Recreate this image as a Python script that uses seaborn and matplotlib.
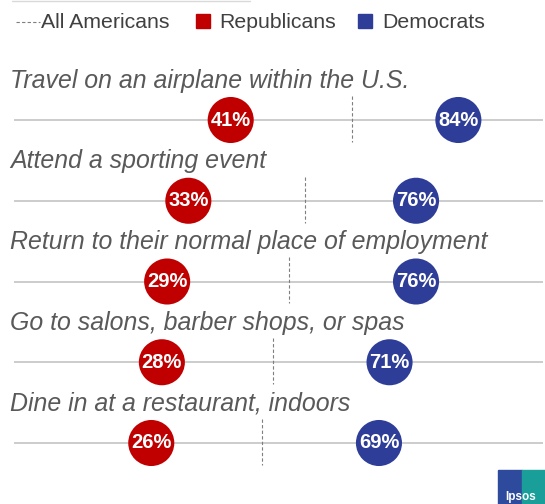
import numpy as np
import pandas as pd
import seaborn as sns
import matplotlib.pyplot as plt
from matplotlib.patches import Rectangle
from matplotlib.lines import Line2D

# data
activities = ["Travel on an airplane within the U.S.",
              "Attend a sporting event",
              "Return to their normal place of employment",
              "Go to salons, barber shops, or spas",
              "Dine in at a restaurant, indoors"]
republicans = [41, 33, 29, 28, 26]
democrats = [84, 76, 76, 71, 69]
all_americans = [64, 55, 52, 49, 47]

RED = "#C00000"
BLUE = "#2E3D98"

sns.set_theme(style="white")
plt.rcParams['font.family'] = ['Liberation Sans', 'DejaVu Sans']

df = pd.DataFrame({
    "row": list(range(len(activities))) * 2,
    "value": republicans + democrats,
    "party": ["Republicans"] * len(activities) + ["Democrats"] * len(activities),
})

fig = plt.figure(figsize=(5.45, 5.04), dpi=100)
ax = fig.add_axes([13.6 / 545, 0, 529.5 / 545, 1])
ax.set_xlim(0, 100)
# rows at ~120px, spacing ~80.75px
ax.set_ylim((504 - 120) / 80.75, -120 / 80.75)
ax.axis("off")

for i, name in enumerate(activities):
    ax.hlines(i, 0, 100, color="#BFBFBF", lw=1.1, zorder=1)
    ax.vlines(all_americans[i], i - 0.3, i + 0.27, color="#7F7F7F",
              lw=0.8, linestyles=(0, (3, 2)), zorder=1)
    ax.text(-0.6, i - 0.4, name, fontsize=17.9, style="italic",
            color="#595959", ha="left", va="baseline")

sns.scatterplot(data=df, x="value", y="row", hue="party",
                palette={"Republicans": RED, "Democrats": BLUE},
                s=1100, linewidth=0, legend=False, ax=ax, zorder=3)

for _, r in df.iterrows():
    ax.text(r["value"], r["row"], f"{r['value']}%", color="white",
            fontsize=14.5, fontweight="bold", ha="center", va="center", zorder=4)

# legend drawn in figure pixels
W, H = 545, 504
def fx(px):
    return px / W
def fy(py):
    return 1 - py / H

fig.add_artist(Line2D([fx(12), fx(250)], [fy(1), fy(1)], color="#D9D9D9", lw=1))
fig.add_artist(Line2D([fx(16), fx(40)], [fy(22), fy(22)], color="#7F7F7F",
                      lw=0.8, linestyle=(0, (3, 2))))
fig.text(fx(41), fy(22), "All Americans", fontsize=15.3, color="#404040", va="center")
fig.add_artist(Rectangle((fx(196), fy(28)), fx(14), 14 / H, color=RED))
fig.text(fx(219), fy(22), "Republicans", fontsize=15.3, color="#404040", va="center")
fig.add_artist(Rectangle((fx(358), fy(28)), fx(14), 14 / H, color=BLUE))
fig.text(fx(382), fy(22), "Democrats", fontsize=15.3, color="#404040", va="center")

# Ipsos logo
fig.add_artist(Rectangle((fx(498), fy(504)), fx(24), 34 / H, color="#2E4A9C"))
fig.add_artist(Rectangle((fx(522), fy(504)), fx(23), 34 / H, color="#1A9E9A"))
fig.text(fx(521), fy(497), "Ipsos", fontsize=8.5, color="white",
         fontweight="bold", ha="center", va="center")

fig.savefig("out.png", dpi=100)
